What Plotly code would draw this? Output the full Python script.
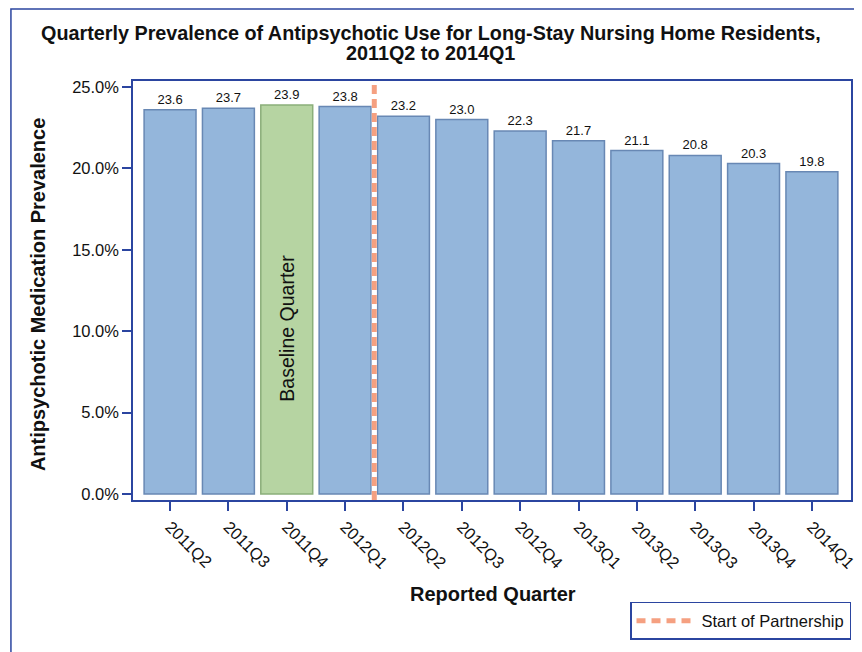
import plotly.graph_objects as go

quarters = ["2011Q2", "2011Q3", "2011Q4", "2012Q1", "2012Q2", "2012Q3",
            "2012Q4", "2013Q1", "2013Q2", "2013Q3", "2013Q4", "2014Q1"]
prevalence = [23.6, 23.7, 23.9, 23.8, 23.2, 23.0, 22.3, 21.7, 21.1, 20.8, 20.3, 19.8]
baseline_quarter = "2011Q4"
partnership_pos = 3.5  # between 2012Q1 and 2012Q2
y_ticks = [0, 5, 10, 15, 20, 25]
y_ticktext = [f"{v:.1f}%" for v in y_ticks]

BLUE_FILL = "#94B6DB"
BLUE_LINE = "#6888B4"
GREEN_FILL = "#B6D4A2"
GREEN_LINE = "#8BAE7A"
AXIS = "#2B45A0"
SALMON = "#F5A081"
TXT = "#111111"
FONT = "Arial, Liberation Sans, sans-serif"

fills = [GREEN_FILL if q == baseline_quarter else BLUE_FILL for q in quarters]
lines = [GREEN_LINE if q == baseline_quarter else BLUE_LINE for q in quarters]

fig = go.Figure()
fig.add_trace(go.Bar(
    x=quarters, y=prevalence,
    marker=dict(color=fills, line=dict(color=lines, width=1.5)),
    text=[f"{v:.1f}" for v in prevalence],
    textposition="outside",
    textfont=dict(size=13, color=TXT, family=FONT),
    cliponaxis=False,
    showlegend=False,
    hoverinfo="x+y",
))
fig.add_trace(go.Scatter(
    x=[None], y=[None], mode="lines",
    line=dict(color=SALMON, width=5, dash="9px,6px"),
    name="Start of Partnership",
))

fig.add_shape(type="line", xref="x", yref="paper", x0=partnership_pos, x1=partnership_pos,
              y0=0, y1=1, line=dict(color="white", width=5), layer="above")
fig.add_shape(type="line", xref="x", yref="paper", x0=partnership_pos, x1=partnership_pos,
              y0=0, y1=1, line=dict(color=SALMON, width=5, dash="9px,5px"), layer="above")

# outer border
fig.add_shape(type="rect", xref="paper", yref="paper", x0=-0.170, x1=1.2, y0=-0.6, y1=1.172,
              line=dict(color=AXIS, width=1.5), fillcolor="rgba(0,0,0,0)", layer="above")

# title lines
fig.add_annotation(xref="paper", yref="paper", x=0.415, y=1.1146, xanchor="center", yanchor="middle",
                   text="<b>Quarterly Prevalence of Antipsychotic Use for Long-Stay Nursing Home Residents,</b>",
                   showarrow=False, font=dict(size=19.8, color=TXT, family=FONT))
fig.add_annotation(xref="paper", yref="paper", x=0.415, y=1.0668, xanchor="center", yanchor="middle",
                   text="<b>2011Q2 to 2014Q1</b>",
                   showarrow=False, font=dict(size=19.8, color=TXT, family=FONT))
# axis titles
fig.add_annotation(xref="paper", yref="paper", x=-0.1323, y=0.489, xanchor="center", yanchor="middle",
                   textangle=-90, text="<b>Antipsychotic Medication Prevalence</b>",
                   showarrow=False, font=dict(size=20, color=TXT, family=FONT))
fig.add_annotation(xref="paper", yref="paper", x=0.502, y=-0.2243, xanchor="center", yanchor="middle",
                   text="<b>Reported Quarter</b>",
                   showarrow=False, font=dict(size=20, color=TXT, family=FONT))

fig.add_annotation(x=baseline_quarter, y=10.2, text="Baseline Quarter", textangle=-90,
                   showarrow=False, font=dict(size=19.5, color=TXT, family=FONT))

fig.update_layout(
    width=854, height=644,
    margin=dict(l=125, r=11, t=73, b=152),
    paper_bgcolor="white", plot_bgcolor="white",
    font=dict(family=FONT, color=TXT),
    bargap=0.11,
    showlegend=True,
    legend=dict(
        x=1.0, xanchor="right", y=-0.334, yanchor="bottom",
        bordercolor=AXIS, borderwidth=1.5, bgcolor="white",
        font=dict(size=16.5, family=FONT, color=TXT),
        itemwidth=60, entrywidth=228,
    ),
)
fig.update_xaxes(
    type="category", range=[-0.635, 11.67],
    showline=True, mirror=True, linecolor=AXIS, linewidth=1.5,
    ticks="outside", ticklen=9, tickcolor=AXIS, tickwidth=1.5,
    tickangle=45, tickfont=dict(size=16.5, family=FONT, color=TXT),
    showgrid=False, automargin=False,
)
fig.update_yaxes(
    range=[-0.37, 25.37], tickmode="array", tickvals=y_ticks, ticktext=y_ticktext,
    showline=True, mirror=True, linecolor=AXIS, linewidth=1.5,
    ticks="outside", ticklen=9, tickcolor=AXIS, tickwidth=1.5,
    tickfont=dict(size=16.5, family=FONT, color=TXT),
    showgrid=False, zeroline=False, automargin=False,
)

fig.write_html("out.html")
